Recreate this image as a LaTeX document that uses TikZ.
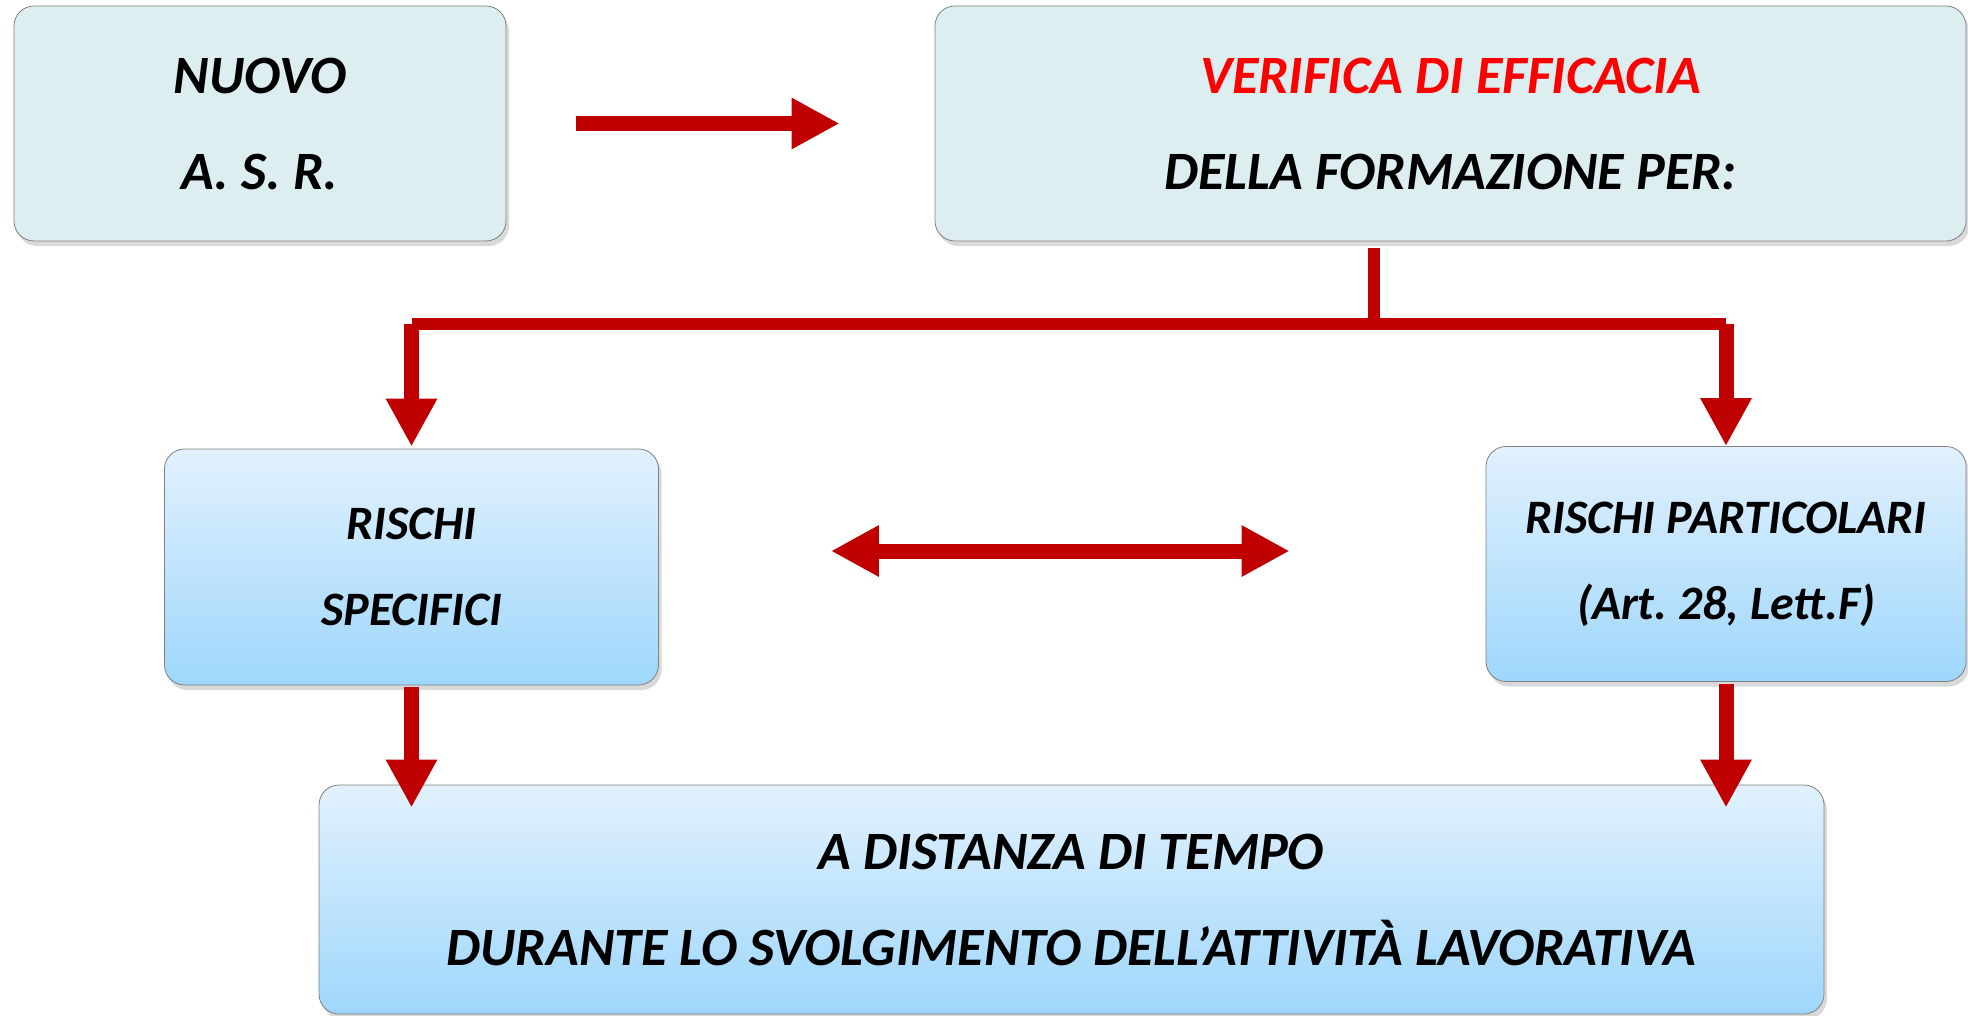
\documentclass[tikz,border=0pt]{standalone}
\usepackage{fontspec}
\setmainfont{Carlito}
\frenchspacing
\usetikzlibrary{positioning,arrows.meta,shadows}
\definecolor{topfill}{RGB}{221,238,240}
\definecolor{bluetop}{RGB}{226,241,253}
\definecolor{bluebot}{RGB}{158,215,252}
\definecolor{arrowred}{RGB}{192,0,0}
\definecolor{titlered}{RGB}{255,0,0}
\tikzset{
  >={Triangle[width = 24pt, length = 24pt]},
  box/.style = {draw = black!50, rounded corners = 10pt, inner sep = 0pt, align = center,
    drop shadow = {shadow xshift = 1.5pt, shadow yshift = -2.5pt, opacity = .3}},
  topbox/.style = {box, fill = topfill, font = \fontsize{27}{48}\selectfont\bfseries\itshape},
  riskbox/.style = {box, top color = bluetop, bottom color = bluebot, font = \fontsize{24}{43}\selectfont\bfseries\itshape},
  flow/.style = {draw = arrowred, line width = 7.5pt, ->},
  bar/.style = {draw = arrowred, line width = 6pt}
}
\begin{document}
\begin{tikzpicture}[x = .5pt, y = -.5pt]
\useasboundingbox (0,0) rectangle (1968,1016);
\node[topbox, minimum width = 246pt, minimum height = 117.5pt] (nuovo) at (260,123.5) {NUOVO\\A. S. R.};
\node[topbox, minimum width = 515.5pt, minimum height = 117.5pt] (verif) at (1450.5,123.5) {{\color{titlered}VERIFICA DI EFFICACIA}\\DELLA FORMAZIONE PER:};
\node[riskbox, minimum width = 247pt, minimum height = 118pt] (specifici) at (411.5,567) {RISCHI\\SPECIFICI};
\node[riskbox, minimum width = 240pt, minimum height = 117.5pt] (particolari) at (1726,564) {RISCHI PARTICOLARI\\(Art. 28, Lett.F)};
\node[riskbox, minimum width = 752.5pt, minimum height = 114.5pt, font = \fontsize{27}{48}\selectfont\bfseries\itshape] (tempo) at (1071.5,899.5) {A DISTANZA DI TEMPO\\DURANTE LO SVOLGIMENTO DELL’ATTIVITÀ LAVORATIVA};
\coordinate (split) at (1374,324);
\draw[flow, shorten <= 35pt, shorten >= 47.5pt] (nuovo.east) -- (verif.west);
\draw[bar, shorten <= 3.5pt] (verif.south -| split) -- (split);
\draw[bar] (split -| specifici) -- (split -| particolari);
\draw[flow, shorten >= 1pt] (split -| specifici) -- (specifici.north);
\draw[flow] (split -| particolari) -- (particolari.north);
\draw[flow, <->, shorten <= 86pt, shorten >= 98pt] ([yshift = 8pt]specifici.east) -- ([yshift = 8pt]specifici.east -| particolari.west);
\draw[flow, shorten <= 1pt, shorten >= -11.5pt] (specifici.south) -- (specifici.south |- tempo.north);
\draw[flow, shorten <= 1pt, shorten >= -11.5pt] (particolari.south) -- (particolari.south |- tempo.north);
\end{tikzpicture}
\end{document}
